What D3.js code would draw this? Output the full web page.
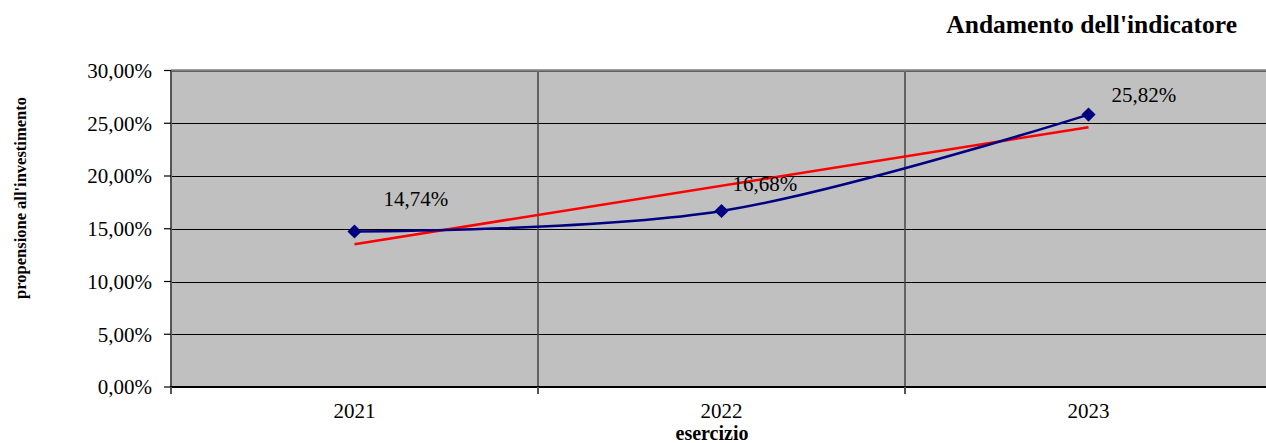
<!DOCTYPE html>
<html><head><meta charset="utf-8">
<script src="https://cdn.jsdelivr.net/npm/d3@7"></script>
<style>html,body{margin:0;padding:0;background:#fff;overflow:hidden}svg{display:block}</style>
</head><body>
<svg id="c" width="1266" height="443"></svg>
<script>
const categories = ["2021", "2022", "2023"];
const values = [14.74, 16.68, 25.82];
const labels = ["14,74%", "16,68%", "25,82%"];
const trendValues = [13.54, 24.62];
const yTicks = [0, 5, 10, 15, 20, 25, 30];
const yTickLabels = ["0,00%", "5,00%", "10,00%", "15,00%", "20,00%", "25,00%", "30,00%"];
const title = "Andamento dell'indicatore";
const xTitle = "esercizio";
const yTitle = "propensione all'investimento";

const svg = d3.select("#c");
const L = 171, R = 1272, T = 70.5, B = 387;
const font = "Liberation Serif, Times New Roman, serif";

const x = d3.scaleBand().domain(categories).range([L, R]);
const y = d3.scaleLinear().domain([0, 30]).range([B, T]);
const cx = c => x(c) + x.bandwidth() / 2;

svg.append("rect").attr("x", L).attr("y", T).attr("width", R - L).attr("height", B - T).attr("fill", "#C0C0C0");

svg.append("g").selectAll("line").data(yTicks.slice(1)).join("line")
  .attr("x1", L).attr("x2", R).attr("y1", d => Math.round(y(d)) + 0.5).attr("y2", d => Math.round(y(d)) + 0.5)
  .attr("stroke", "#000").attr("stroke-width", 1);

svg.append("g").selectAll("line").data(categories.slice(1)).join("line")
  .attr("x1", d => x(d)).attr("x2", d => x(d)).attr("y1", T).attr("y2", B)
  .attr("stroke", "#444").attr("stroke-width", 1.5);

svg.append("line").attr("x1", L).attr("x2", R).attr("y1", T).attr("y2", T).attr("stroke", "#808080").attr("stroke-width", 2.5);
svg.append("line").attr("x1", L).attr("x2", L).attr("y1", T).attr("y2", B).attr("stroke", "#555").attr("stroke-width", 2);
svg.append("line").attr("x1", L - 1).attr("x2", R).attr("y1", B).attr("y2", B).attr("stroke", "#000").attr("stroke-width", 2);

const yg = svg.append("g");
yg.selectAll("line").data(yTicks).join("line")
  .attr("x1", L - 7).attr("x2", L).attr("y1", d => y(d)).attr("y2", d => y(d)).attr("stroke", "#000").attr("stroke-width", 1.2);
yg.selectAll("text").data(yTicks).join("text")
  .attr("x", 152).attr("y", d => y(d)).attr("dy", "0.35em").attr("text-anchor", "end")
  .style("font-family", font).attr("font-size", 21).text((d, i) => yTickLabels[i]);

const xg = svg.append("g");
xg.selectAll("line").data(categories).join("line")
  .attr("x1", d => x(d)).attr("x2", d => x(d)).attr("y1", B).attr("y2", B + 7).attr("stroke", "#555").attr("stroke-width", 2);
xg.selectAll("text").data(categories).join("text")
  .attr("x", d => cx(d)).attr("y", 418).attr("text-anchor", "middle")
  .style("font-family", font).attr("font-size", 21).text(d => d);

svg.append("line")
  .attr("x1", cx(categories[0])).attr("y1", y(trendValues[0]))
  .attr("x2", cx(categories[categories.length - 1])).attr("y2", y(trendValues[1]))
  .attr("stroke", "#FF0000").attr("stroke-width", 2.5);

const line = d3.line().x((d, i) => cx(categories[i])).y(d => y(d)).curve(d3.curveCardinal.tension(0));
svg.append("path").datum(values).attr("d", line).attr("fill", "none").attr("stroke", "#000080").attr("stroke-width", 2.5);

svg.append("g").selectAll("path").data(values).join("path")
  .attr("d", d3.symbol(d3.symbolSquare, 100)())
  .attr("transform", (d, i) => `translate(${cx(categories[i])},${y(d)}) rotate(45)`)
  .attr("fill", "#000080");

const labelOffsets = [[29, -25], [11, -20], [23, -13]];
svg.append("g").selectAll("text").data(values).join("text")
  .attr("x", (d, i) => cx(categories[i]) + labelOffsets[i][0])
  .attr("y", (d, i) => y(d) + labelOffsets[i][1])
  .style("font-family", font).attr("font-size", 21).attr("fill", "#000").text((d, i) => labels[i]);

svg.append("text").attr("x", 1237).attr("y", 33).attr("text-anchor", "end")
  .style("font-family", font).attr("font-size", 25.5).attr("font-weight", "bold").text(title);
svg.append("text").attr("x", 712).attr("y", 440).attr("text-anchor", "middle")
  .style("font-family", font).attr("font-size", 20).attr("font-weight", "bold").text(xTitle);
svg.append("text").attr("transform", "translate(20,198) rotate(-90)").attr("text-anchor", "middle").attr("dy", "0.35em")
  .style("font-family", font).attr("font-size", 16.5).attr("font-weight", "bold").text(yTitle);
</script>
</body></html>
